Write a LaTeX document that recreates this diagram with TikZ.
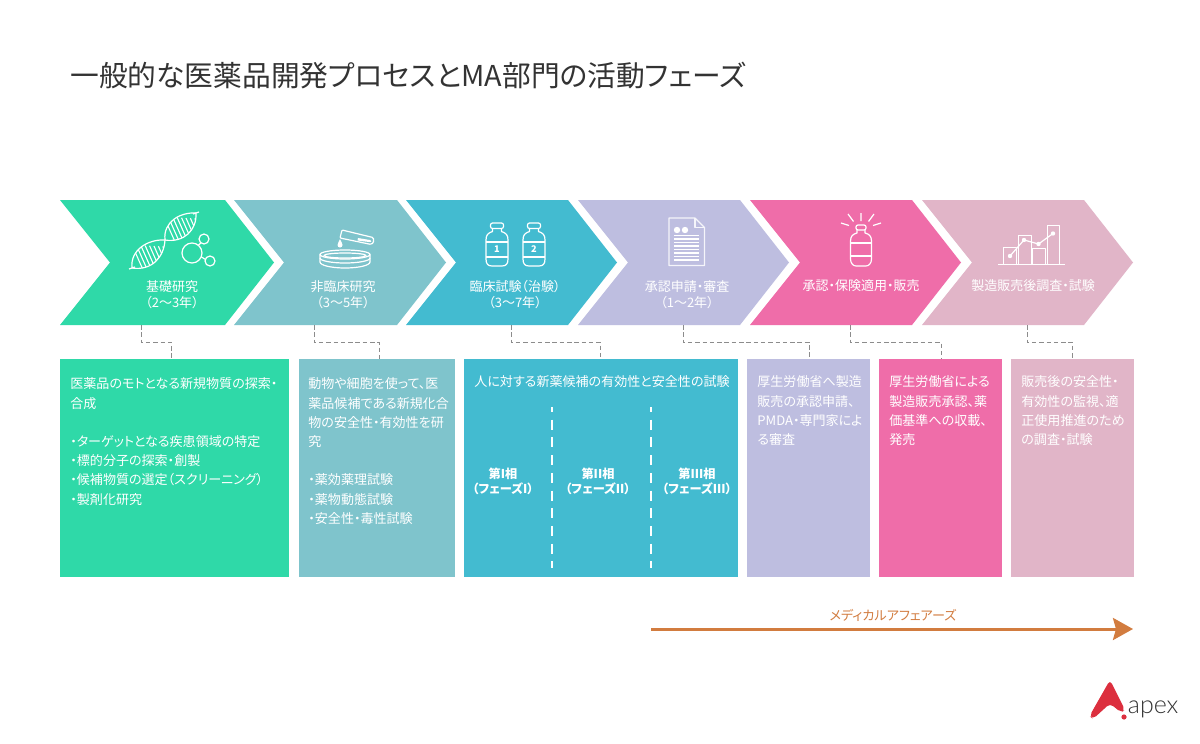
\documentclass[tikz,border=0pt]{standalone}
\usepackage{fontspec}
\setmainfont[RawFeature={+palt}]{Noto Sans CJK JP}
\newfontfamily\logofont{Lato Light}
\usetikzlibrary{arrows.meta}
\definecolor{cgreen}{HTML}{2FD9A8}
\definecolor{cteal}{HTML}{7FC4CC}
\definecolor{cblue}{HTML}{43BBD0}
\definecolor{clav}{HTML}{BEBEE0}
\definecolor{cpink}{HTML}{EF6DA9}
\definecolor{crose}{HTML}{E1B5C8}
\definecolor{corange}{HTML}{D27C3F}
\definecolor{cred}{HTML}{DC2F3E}
\definecolor{ctext}{HTML}{333333}
\definecolor{cleader}{HTML}{8C8C8C}
\newcommand{\chevron}[6]{%
  \fill[#6] (#2,200) -- (#3,200) -- (#4,262.5) -- (#3,325) -- (#2,325) -- ({#2+50},262.5) -- cycle;
  \coordinate (#1) at (#5,325);
}
\newcommand{\infobox}[4]{%
  \node[infobox,fill=#4,minimum width={(#3-#2)*0.5pt}] (#1) at ({(#2+#3)/2},468) {};
}
\tikzset{
  x=0.5pt,y=-0.5pt,
  infobox/.style={draw=none,minimum height=109pt,inner sep=0pt,outer sep=0pt},
  chevlabel/.style={text=white,font=\fontsize{6.5pt}{8pt}\selectfont,align=center,inner sep=0pt},
  boxtext/.style={text=white,font=\fontsize{6.52pt}{9.6pt}\selectfont,align=left,anchor=north west,inner sep=0pt},
  phase/.style={text=white,font=\fontsize{6.1pt}{7.6pt}\selectfont\bfseries,align=center,inner sep=0pt},
  leader/.style={draw=cleader,line width=0.5pt,dash pattern=on 2.25pt off 1.4pt},
  phasedash/.style={draw=white,line width=1pt,dash pattern=on 5pt off 3.85pt,dash phase=2.5pt},
  icon/.style={draw=white,line width=0.6pt,line join=round},
  iconthin/.style={draw=white,line width=0.55pt},
}
\newcommand{\bottleicon}[3]{%
  \begin{scope}[shift={(#1,#2)}]
    \draw[icon,rounded corners=1pt] (-6.5,0) rectangle (6.5,5.5);
    \draw[icon] (-4.5,5.5) -- (-4.5,8.5) .. controls (-9,10) and (-11,12) .. (-11,17)
      -- (-11,36) .. controls (-11,41) and (-9,43) .. (-5,43) -- (5,43)
      .. controls (9,43) and (11,41) .. (11,36) -- (11,17)
      .. controls (11,12) and (9,10) .. (4.5,8.5) -- (4.5,5.5);
    \draw[icon] (-11,19) -- (11,19) (-11,34) -- (11,34);
    #3
  \end{scope}
}
\begin{document}
\begin{tikzpicture}
\useasboundingbox (0,0) rectangle (1200,744);
\fill[white] (0,0) rectangle (1200,744);

% title
\node[anchor=west,inner sep=0pt,text=ctext,font=\fontsize{14.37pt}{16pt}\selectfont] (title) at (70,76) {一般的な医薬品開発プロセスとMA部門の活動フェーズ};

% chevrons
\chevron{c1}{60}{225}{274}{141}{cgreen}
\chevron{c2}{234}{397}{446}{314}{cteal}
\chevron{c3}{406}{568}{617}{511}{cblue}
\chevron{c4}{578}{740}{789}{683}{clav}
\chevron{c5}{750}{912}{961}{850}{cpink}
\chevron{c6}{922}{1084}{1133}{1027}{crose}

% chevron labels
\node[chevlabel] (l1) at (172,294.5) {基礎研究\\（2〜3年）};
\node[chevlabel] (l2) at (343,294.5) {非臨床研究\\（3〜5年）};
\node[chevlabel] (l3) at (515,294.5) {臨床試験（治験）\\（3〜7年）};
\node[chevlabel] (l4) at (687,294.5) {承認申請・審査\\（1〜2年）};
\node[chevlabel] (l5) at (861,286) {承認・保険適用・販売};
\node[chevlabel] (l6) at (1033,286) {製造販売後調査・試験};

% DNA icon
\begin{scope}
  \draw[icon] (132,268) .. controls (130,250) and (148,239) .. (165,240);
  \draw[icon] (132,268) .. controls (152,271) and (164,257) .. (165,240);
  \draw[icon] (165,240) .. controls (163,222) and (180,212) .. (196,213);
  \draw[icon] (165,240) .. controls (184,243) and (197,230) .. (196,213);
  \draw[icon] (129,269) -- (135,267) (193,214) -- (199,212);
  \begin{scope}
    \clip (132,268) .. controls (130,250) and (148,239) .. (165,240) .. controls (164,257) and (152,271) .. (132,268) -- cycle;
    \foreach \k in {0,...,7} \draw[iconthin] ({132+\k*4.4},{245+\k*0.2}) -- ({144+\k*4.4},{272+\k*0.2});
  \end{scope}
  \begin{scope}
    \clip (165,240) .. controls (163,222) and (180,212) .. (196,213) .. controls (197,230) and (184,243) .. (165,240) -- cycle;
    \foreach \k in {0,...,7} \draw[iconthin] ({164+\k*4.4},{217+\k*0.2}) -- ({176+\k*4.4},{244+\k*0.2});
  \end{scope}
  \draw[icon] (192,253) circle (10);
  \draw[icon] (204,239) circle (5);
  \draw[icon] (210,261) circle (5);
  \draw[icon] (198.5,245) -- (201,243) (201.5,257) -- (205.5,259.5);
\end{scope}

% petri dish icon
\begin{scope}
  \draw[icon] (345,254.5) ellipse (25 and 4.5);
  \draw[icon] (345,255.5) ellipse (21 and 2.5);
  \draw[icon] (320,254.5) -- (320,262) arc[start angle=180,end angle=0,x radius=25,y radius=6] -- (370,254.5);
  \draw[icon] (320,258) arc[start angle=180,end angle=0,x radius=25,y radius=5];
  \draw[icon,rounded corners=0.5pt] (342,230) -- (340,238) -- (369,244) .. controls (374,245) and (375,238) .. (371,237) -- cycle;
  \fill[white] (358,238) -- (370,240) .. controls (372,240.5) and (372,242.5) .. (369,242) -- (357.5,240.5) -- cycle;
  \fill[white] (340,239) .. controls (339,242) and (337.5,243) .. (337.5,245) arc[start angle=180,end angle=0,radius=2.5] .. controls (342.5,243) and (341,242) .. (340,239) -- cycle;
\end{scope}

% bottles
\bottleicon{497}{223}{\node[inner sep=0pt,text=white,font=\fontsize{4.6pt}{5pt}\selectfont\bfseries] (n1) at (0,26.5) {1};}
\bottleicon{534}{223}{\node[inner sep=0pt,text=white,font=\fontsize{4.6pt}{5pt}\selectfont\bfseries] (n2) at (0,26.5) {2};}

% document icon
\begin{scope}
  \draw[icon,draw=white!85!clav] (669,218) -- (695,218) -- (704.5,227.5) -- (704.5,265.5) -- (669,265.5) -- cycle;
  \draw[icon,draw=white!85!clav] (695,218) -- (695,227.5) -- (704.5,227.5);
  \fill[white] (677,230) circle (3.2) (685,230) circle (3.2);
  \foreach \yy in {235.5,239,242.5,246,249.5,253,256.5,260}
    \draw[iconthin] (674,\yy) -- (699,\yy);
\end{scope}

% approved bottle icon
\begin{scope}[shift={(861,225)}]
  \draw[icon,rounded corners=1pt] (-5,0) rectangle (5,5);
  \draw[icon] (-4,5) -- (-4,8) .. controls (-8,9) and (-10.5,11) .. (-10.5,16)
    -- (-10.5,34) .. controls (-10.5,38) and (-8,41) .. (-5,41) -- (5,41)
    .. controls (8,41) and (10.5,38) .. (10.5,34) -- (10.5,16)
    .. controls (10.5,11) and (8,9) .. (4,8) -- (4,5);
  \draw[icon] (-10.5,18) -- (10.5,18) (-10.5,31) -- (10.5,31);
  \draw[icon] (0,-12) -- (0,-4) (-13,-11) -- (-7.5,-3.5) (13,-11) -- (7.5,-3.5) (-20,-2) -- (-12,0.5) (20,-2) -- (12,0.5);
\end{scope}

% chart icon
\begin{scope}
  \draw[icon,line width=0.5pt] (1003.5,247.5) rectangle (1016,264);
  \draw[icon,line width=0.5pt] (1018.5,235) rectangle (1031,264);
  \draw[icon,line width=0.5pt] (1032.5,248.5) rectangle (1045,264);
  \draw[icon,line width=0.5pt] (1047.5,225.5) rectangle (1059.5,264);
  \draw[icon,line width=0.6pt] (998,264.5) -- (1065,264.5);
  \draw[icon] (1010,256) -- (1024,240) -- (1038.5,244) -- (1053,233.5);
  \fill[white] (1010,256) circle (2.2) (1024,240) circle (2.2) (1038.5,244) circle (2.2) (1053,233.5) circle (2.2);
\end{scope}

% boxes
\infobox{b1}{60}{289}{cgreen}
\infobox{b2}{298.5}{455}{cteal}
\infobox{b3}{464}{738}{cblue}
\infobox{b4}{747}{870}{clav}
\infobox{b5}{879}{1002}{cpink}
\infobox{b6}{1011}{1134}{crose}

% leaders
\coordinate (t1) at (171,359);
\coordinate (t2) at (379,359);
\coordinate (t3) at (600,359);
\coordinate (t4) at (809,359);
\coordinate (t5) at (941,359);
\coordinate (t6) at (1072,359);
\foreach \i in {1,...,6}
  \draw[leader] (c\i) -- (c\i |- 0,342) -- (t\i |- 0,342) -- (t\i);

% box texts
\node[boxtext] (x1) at (70,377.5) {医薬品のモトとなる新規物質の探索・\\合成\\[9.6pt]・ターゲットとなる疾患領域の特定\\・標的分子の探索・創製\\・候補物質の選定（スクリーニング）\\・製剤化研究};
\node[boxtext] (x2) at (308,377.5) {動物や細胞を使って、医\\薬品候補である新規化合\\物の安全性・有効性を研\\究\\[9.6pt]・薬効薬理試験\\・薬物動態試験\\・安全性・毒性試験};
\node[chevlabel,font=\fontsize{6.52pt}{8pt}\selectfont] (x3) at (602,382) {人に対する新薬候補の有効性と安全性の試験};
\node[boxtext] (x4) at (757,375.5) {厚生労働省へ製造\\販売の承認申請、\\PMDA・専門家によ\\る審査};
\node[boxtext] (x5) at (889,375.5) {厚生労働省による\\製造販売承認、薬\\価基準への収載、\\発売};
\node[boxtext] (x6) at (1021,375.5) {販売後の安全性・\\有効性の監視、適\\正使用推進のため\\の調査・試験};

% phases
\coordinate (d1a) at (552,407);
\coordinate (d1b) at (552,568);
\coordinate (d2a) at (651,407);
\coordinate (d2b) at (651,568);
\draw[phasedash] (d1a) -- (d1b);
\draw[phasedash] (d2a) -- (d2b);
\node[phase] (p1) at (503,481) {第I相\\（フェーズI）};
\node[phase] (p2) at (598,481) {第II相\\（フェーズII）};
\node[phase] (p3) at (697,481) {第III相\\（フェーズIII）};

% medical affairs arrow
\coordinate (ma1) at (651,629);
\coordinate (ma2) at (1133,629);
\draw[corange,line width=1.5pt,-{Stealth[length=10pt,width=11pt,inset=1.5pt]}] (ma1) -- (ma2);
\node[inner sep=0pt,text=corange,font=\fontsize{6.55pt}{8pt}\selectfont] (malabel) at (893,615) {メディカルアフェアーズ};

% logo
\fill[cred,rounded corners=2pt] (1110,680) -- (1089.5,716) -- (1093,719) -- (1110,703.5) -- (1121,712.5) -- (1125,710) -- cycle;
\fill[cred] (1124,717) circle (2.6);
\node[anchor=base west,inner sep=0pt,text=ctext,font=\logofont\fontsize{12.5pt}{14pt}\selectfont] (logo) at (1127.5,713) {apex};
\end{tikzpicture}
\end{document}
